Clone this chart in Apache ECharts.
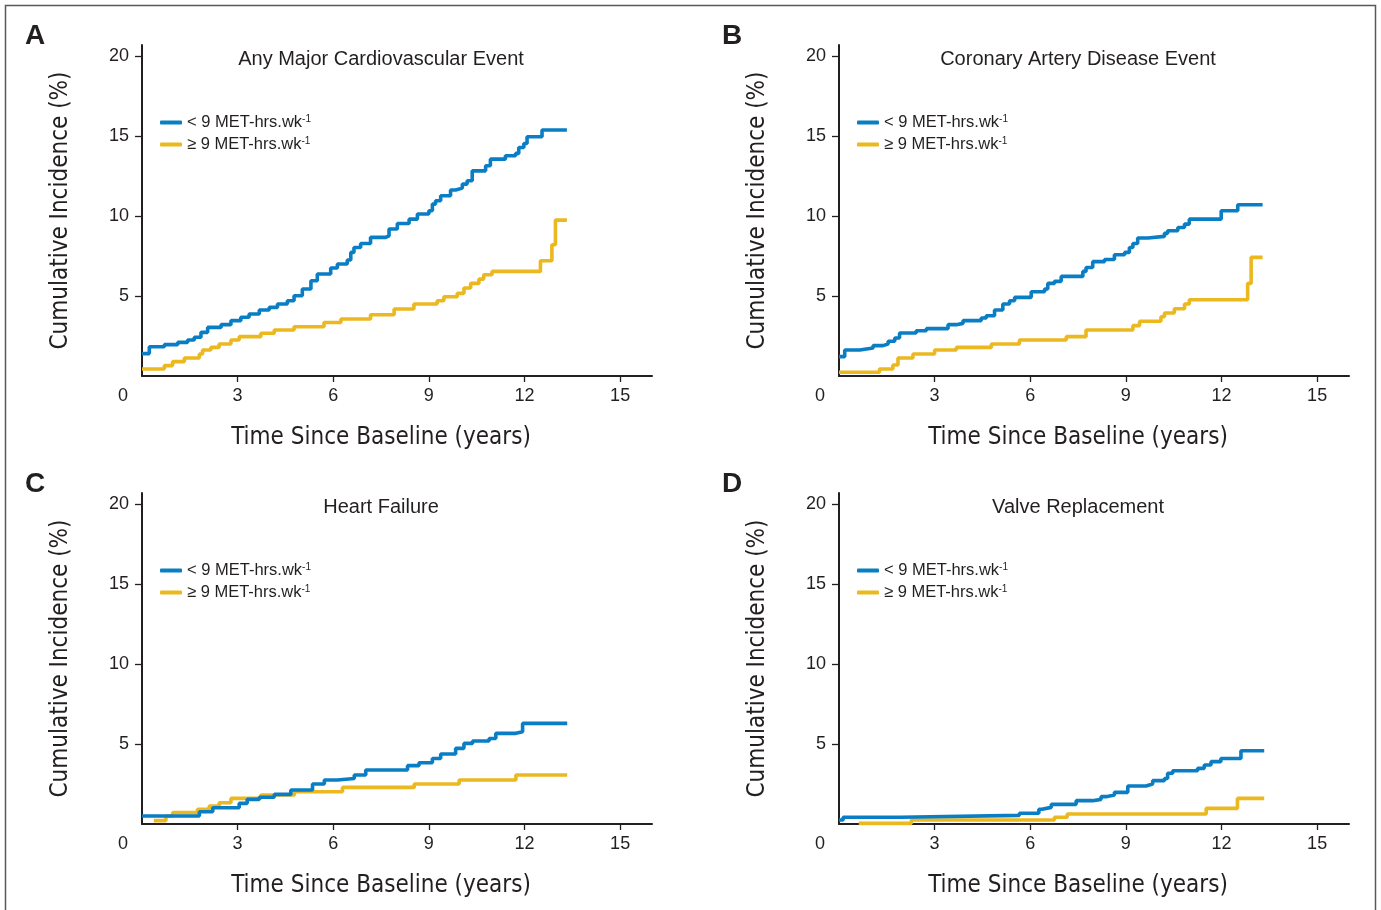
<!DOCTYPE html>
<html>
<head>
<meta charset="utf-8">
<script src="https://cdn.jsdelivr.net/npm/echarts@6/dist/echarts.min.js"></script>
<style>
html,body{margin:0;padding:0;background:#fff;}
#c{width:1381px;height:910px;}
</style>
</head>
<body>
<div id="c"></div>
<script>
// ---------- data ----------
const seriesNames = ['< 9 MET-hrs.wk-1', '\u2265 9 MET-hrs.wk-1'];
const panelTitles = ['Any Major Cardiovascular Event', 'Coronary Artery Disease Event', 'Heart Failure', 'Valve Replacement'];
const panelLetters = ['A', 'B', 'C', 'D'];
const xTickValues = [0, 3, 6, 9, 12, 15];
const yTickValues = [5, 10, 15, 20];

// Panel A
const aLowT = [0, 0.23, 0.70, 1.12, 1.43, 1.64, 1.85, 2.06, 2.48, 2.79, 3.10, 3.36, 3.68, 3.99, 4.25, 4.56, 4.77, 5.03, 5.30, 5.50, 5.92, 6.13, 6.44, 6.55, 6.65, 6.86, 7.17, 7.64, 7.75, 8.01, 8.38, 8.64, 9.00, 9.11, 9.21, 9.37, 9.68, 9.84, 10.05, 10.20, 10.36, 10.78, 10.93, 11.40, 11.72, 11.82, 11.98, 12.08, 12.55, 13.33];
const aLowY = [1.40, 1.83, 1.96, 2.10, 2.25, 2.42, 2.73, 3.04, 3.21, 3.46, 3.67, 3.88, 4.13, 4.29, 4.50, 4.71, 5.02, 5.44, 5.96, 6.38, 6.75, 7.00, 7.25, 7.73, 8.04, 8.29, 8.67, 8.77, 9.19, 9.54, 9.81, 10.13, 10.33, 10.75, 10.96, 11.27, 11.63, 11.75, 12.00, 12.21, 12.83, 13.15, 13.56, 13.77, 13.92, 14.29, 14.54, 14.96, 15.38, 15.38];
const aHighT = [0, 0.70, 0.96, 1.33, 1.80, 1.90, 2.16, 2.42, 2.79, 3.05, 3.73, 4.15, 4.77, 5.71, 6.24, 7.17, 7.91, 8.53, 9.26, 9.47, 9.89, 10.10, 10.31, 10.57, 10.72, 10.98, 12.50, 12.86, 12.97, 13.33];
const aHighY = [0.44, 0.65, 0.90, 1.13, 1.38, 1.63, 1.79, 2.00, 2.25, 2.46, 2.67, 2.88, 3.08, 3.35, 3.56, 3.83, 4.19, 4.50, 4.71, 4.96, 5.17, 5.50, 5.79, 6.06, 6.33, 6.54, 7.21, 8.21, 9.75, 9.75];

// Panel B
const bLowT = [0, 0.18, 0.65, 1.07, 1.38, 1.54, 1.75, 1.90, 2.42, 2.74, 3.42, 3.68, 3.89, 4.46, 4.62, 4.88, 5.14, 5.35, 5.51, 6.03, 6.45, 6.55, 6.76, 6.97, 7.65, 7.75, 7.96, 8.33, 8.64, 8.96, 9.11, 9.22, 9.37, 9.69, 10.21, 10.31, 10.63, 10.84, 10.99, 11.99, 12.51, 13.29];
const bLowY = [1.21, 1.63, 1.75, 1.90, 2.00, 2.17, 2.38, 2.69, 2.83, 2.96, 3.21, 3.29, 3.46, 3.63, 3.77, 4.13, 4.50, 4.71, 4.92, 5.27, 5.44, 5.79, 5.92, 6.23, 6.54, 6.79, 7.15, 7.29, 7.58, 7.73, 8.04, 8.29, 8.63, 8.73, 8.92, 9.08, 9.29, 9.50, 9.81, 10.33, 10.71, 10.71];
const bHighT = [0, 1.27, 1.69, 1.85, 2.32, 3.00, 3.68, 4.78, 5.66, 7.13, 7.75, 9.22, 9.43, 10.10, 10.21, 10.52, 10.84, 10.99, 12.82, 12.93, 13.29];
const bHighY = [0.23, 0.44, 0.69, 1.13, 1.38, 1.63, 1.79, 2.00, 2.25, 2.46, 2.88, 3.15, 3.42, 3.71, 3.94, 4.21, 4.50, 4.77, 5.79, 7.42, 7.42];

// Panel C
const cLowT = [0, 1.80, 2.22, 3.05, 3.30, 3.68, 4.15, 4.67, 5.35, 5.72, 6.13, 6.66, 7.02, 8.33, 8.69, 9.11, 9.37, 9.84, 10.10, 10.37, 10.89, 11.10, 11.73, 11.94, 13.34];
const cLowY = [0.50, 0.77, 1.02, 1.29, 1.54, 1.67, 1.85, 2.13, 2.50, 2.75, 2.85, 3.06, 3.38, 3.65, 3.83, 4.10, 4.38, 4.73, 5.04, 5.19, 5.35, 5.67, 5.77, 6.29, 6.29];
const cHighT = [0.37, 0.75, 0.96, 1.74, 2.11, 2.42, 2.79, 3.73, 4.78, 6.29, 8.54, 9.95, 11.73, 13.34];
const cHighY = [0.21, 0.50, 0.71, 0.92, 1.13, 1.33, 1.60, 1.81, 2.02, 2.29, 2.50, 2.75, 3.06, 3.06];

// Panel D
const dLowT = [0, 0.13, 1.93, 5.66, 6.27, 6.37, 6.66, 7.44, 7.96, 8.22, 8.38, 8.64, 9.06, 9.63, 9.84, 10.21, 10.31, 10.47, 11.25, 11.46, 11.67, 11.98, 12.61, 13.34];
const dLowY = [0.25, 0.42, 0.54, 0.67, 0.92, 1.04, 1.23, 1.46, 1.54, 1.71, 1.81, 1.98, 2.38, 2.50, 2.71, 2.85, 3.17, 3.33, 3.48, 3.69, 3.90, 4.10, 4.58, 4.58];
const dHighT = [0.62, 2.27, 6.76, 7.16, 11.52, 12.50, 13.34];
const dHighY = [0.04, 0.25, 0.42, 0.63, 0.98, 1.60, 1.60];

// ---------- styling / layout ----------
const BLUE = '#0a7ec4';
const GOLD = '#ebb81f';
const INK = '#231f20';
const NARROW = '"Liberation Sans Narrow", "DejaVu Sans Condensed", "Roboto Condensed", "Liberation Sans", Arial, sans-serif';
const SANS = '"Liberation Sans", Arial, Helvetica, sans-serif';

const panels = [
  {left: 142, top: 45, low: [aLowT, aLowY], high: [aHighT, aHighY]},
  {left: 839, top: 45, low: [bLowT, bLowY], high: [bHighT, bHighY]},
  {left: 142, top: 493, low: [cLowT, cLowY], high: [cHighT, cHighY]},
  {left: 839, top: 493, low: [dLowT, dLowY], high: [dHighT, dHighY]}
];
const GW = 510, GH = 331;

function pairs(t, y) { return t.map((v, i) => [v, y[i]]); }

const grid = [], xAxis = [], yAxis = [], series = [], legend = [], title = [];
panels.forEach((p, i) => {
  grid.push({left: p.left, top: p.top, width: GW, height: GH, containLabel: false});
  xAxis.push({
    type: 'value', gridIndex: i, min: 0, max: 16,
    name: 'Time Since Baseline (years)', nameLocation: 'middle', nameGap: 50,
    nameTextStyle: {fontFamily: NARROW, fontSize: 24, color: INK, padding: [0, 32, 0, 0]},
    axisLine: {show: true, onZero: false, lineStyle: {color: INK, width: 2}},
    axisTick: {show: true, inside: false, length: 6, lineStyle: {color: INK, width: 1.3}, customValues: [3, 6, 9, 12, 15]},
    axisLabel: {
      show: true, margin: 11, fontFamily: SANS, fontSize: 18, color: INK,
      customValues: xTickValues,
      formatter: v => v === 0 ? '{z|0}' : String(v),
      rich: {z: {fontFamily: SANS, fontSize: 18, color: INK, padding: [0, 38, 0, 0]}}
    },
    splitLine: {show: false}
  });
  yAxis.push({
    type: 'value', gridIndex: i, min: 0, max: 20.7,
    name: 'Cumulative Incidence (%)', nameLocation: 'middle', nameGap: 69,
    nameTextStyle: {fontFamily: NARROW, fontSize: 24, color: INK},
    axisLine: {show: true, onZero: false, lineStyle: {color: INK, width: 2}},
    axisTick: {show: true, inside: false, length: 7, lineStyle: {color: INK, width: 1.3}, customValues: yTickValues},
    axisLabel: {show: true, margin: 13, fontFamily: SANS, fontSize: 18, color: INK, customValues: yTickValues},
    splitLine: {show: false}
  });
  series.push({
    name: seriesNames[0], type: 'line', xAxisIndex: i, yAxisIndex: i, step: 'end',
    data: pairs(p.low[0], p.low[1]), showSymbol: false, symbol: 'none',
    lineStyle: {color: BLUE, width: 3.6}, itemStyle: {color: BLUE}, z: 3, animation: false
  });
  series.push({
    name: seriesNames[1], type: 'line', xAxisIndex: i, yAxisIndex: i, step: 'end',
    data: pairs(p.high[0], p.high[1]), showSymbol: false, symbol: 'none',
    lineStyle: {color: GOLD, width: 3.6}, itemStyle: {color: GOLD}, z: 2, animation: false
  });
  legend.push({
    data: seriesNames, orient: 'vertical', left: p.left + 13, top: p.top + 64,
    itemWidth: 22, itemHeight: 4, itemGap: 5, icon: 'roundRect', selectedMode: false,
    formatter: name => '{t|' + name.replace(/-1$/, '') + '}{s|-1}',
    textStyle: {
      fontFamily: SANS, fontSize: 16.5, color: INK,
      rich: {
        t: {fontFamily: SANS, fontSize: 16.5, color: INK, lineHeight: 17},
        s: {fontFamily: SANS, fontSize: 10, color: INK, verticalAlign: 'top', lineHeight: 17}
      }
    }
  });
  title.push({
    text: panelTitles[i], left: p.left + 234, top: p.top - 1, textAlign: 'center',
    textStyle: {fontFamily: SANS, fontSize: 20, fontWeight: 'normal', color: INK}
  });
  title.push({
    text: panelLetters[i], left: p.left - 122, top: p.top - 28,
    textStyle: {fontFamily: SANS, fontSize: 28, fontWeight: 'bold', color: INK}
  });
});

const chart = echarts.init(document.getElementById('c'), null, {renderer: 'canvas'});
chart.setOption({
  backgroundColor: '#fff',
  animation: false,
  title, grid, xAxis, yAxis, series, legend,
  graphic: [{
    type: 'rect', shape: {x: 5.5, y: 5.5, width: 1370, height: 920},
    style: {fill: 'none', stroke: '#58595b', lineWidth: 1.5}, silent: true, z: -1
  }]
});
</script>
</body>
</html>
